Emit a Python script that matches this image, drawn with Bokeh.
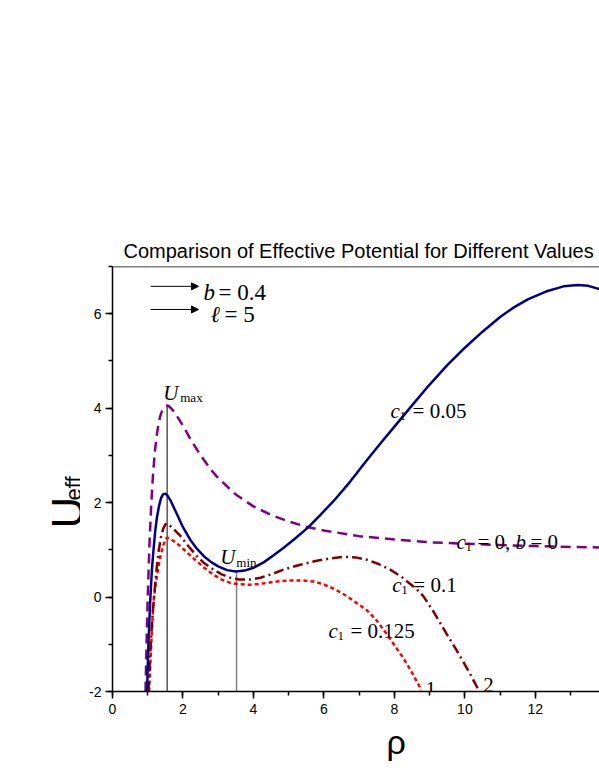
import math
from bokeh.plotting import figure
from bokeh.layouts import row
from bokeh.models import Label, Arrow, NormalHead, SingleIntervalTicker, Range1d, Span, Title
from bokeh.embed import file_html
from bokeh.resources import INLINE

# ---- data ----
purple_x = [0.937, 0.97, 1.0, 1.05, 1.1, 1.15, 1.2, 1.25, 1.3, 1.35, 1.4, 1.45, 1.5, 1.55, 1.6, 1.7, 1.8,
            2.0, 2.2, 2.5, 2.8, 3.0, 3.5, 4.0, 4.5, 5.0, 5.5, 6.0, 7.0, 8.0, 9.0, 10.0, 11.0, 12.0, 13.0, 13.82]
purple_y = [-2.0, -0.85, 0.0, 1.13, 1.97, 2.60, 3.06, 3.40, 3.64, 3.82, 3.93, 4.00, 4.04, 4.05, 4.04, 3.97, 3.87,
            3.63, 3.36, 3.00, 2.69, 2.52, 2.17, 1.92, 1.74, 1.60, 1.49, 1.41, 1.29, 1.22, 1.16, 1.13, 1.10, 1.08, 1.06, 1.05]

blue_x = [0.98, 1.02, 1.07, 1.12, 1.16, 1.21, 1.26, 1.32, 1.38, 1.44, 1.50, 1.56, 1.65, 1.75, 1.85, 2.0, 2.2,
          2.4, 2.6, 2.8, 3.0, 3.25, 3.5, 3.75, 4.0, 4.3, 4.6, 4.85, 5.2, 5.56, 5.9, 6.27, 6.74, 7.2, 7.59, 8.0,
          8.5, 9.0, 9.5, 10.0, 10.5, 11.0, 11.4, 11.8, 12.3, 12.8, 13.2, 13.5, 13.82]
blue_y = [-2.0, -1.0, -0.08, 0.60, 0.97, 1.38, 1.68, 1.93, 2.10, 2.18, 2.19, 2.15, 2.04, 1.88, 1.72, 1.48, 1.22,
          1.02, 0.86, 0.74, 0.65, 0.57, 0.54, 0.56, 0.62, 0.74, 0.90, 1.04, 1.25, 1.48, 1.74, 2.03, 2.44, 2.88, 3.24, 3.61,
          4.06, 4.50, 4.91, 5.28, 5.62, 5.93, 6.14, 6.31, 6.47, 6.58, 6.61, 6.59, 6.52]

dred_x = [1.02, 1.08, 1.14, 1.21, 1.26, 1.31, 1.37, 1.44, 1.50, 1.55, 1.62, 1.72, 1.92, 2.15, 2.39, 2.6, 2.87,
          3.1, 3.34, 3.6, 3.9, 4.2, 4.5, 4.85, 5.3, 5.8, 6.2, 6.55, 6.9, 7.22, 7.55, 7.88, 8.2, 8.64, 8.82, 9.1,
          9.49, 9.75, 9.96, 10.15, 10.34, 10.38]
dred_y = [-2.0, -1.05, -0.35, 0.27, 0.65, 0.97, 1.25, 1.45, 1.54, 1.56, 1.52, 1.45, 1.30, 1.08, 0.87, 0.72, 0.58,
          0.48, 0.41, 0.37, 0.37, 0.41, 0.48, 0.58, 0.68, 0.77, 0.82, 0.85, 0.84, 0.79, 0.70, 0.58, 0.43, 0.16, 0.02, -0.30,
          -0.79, -1.11, -1.38, -1.63, -1.90, -1.96]

red_x = [1.04, 1.1, 1.16, 1.25, 1.35, 1.45, 1.54, 1.62, 1.75, 1.92, 2.15, 2.39, 2.6, 2.87, 3.1, 3.34, 3.6, 3.9,
         4.3, 4.66, 5.0, 5.42, 5.7, 5.99, 6.3, 6.65, 6.9, 7.22, 7.5, 7.78, 8.0, 8.26, 8.5, 8.73, 8.76]
red_y = [-2.0, -1.0, -0.10, 0.40, 0.83, 1.12, 1.26, 1.24, 1.18, 1.08, 0.92, 0.76, 0.62, 0.47, 0.37, 0.30, 0.27, 0.26,
         0.29, 0.33, 0.35, 0.35, 0.33, 0.27, 0.17, 0.02, -0.11, -0.28, -0.50, -0.78, -1.02, -1.30, -1.60, -1.92, -1.98]

umax_x, umax_y = 1.55, 4.08
umin_x, umin_y = 3.52, 0.54

title_text = "Comparison of  Effective Potential for Different Values"
x_title = "\u03c1"
y_title_main, y_title_sub = "U", "eff"

LEFT_W = 80

# ---- left strip holding the rotated y title (its frame is aligned with the main frame: 266..691 px) ----
lf = figure(width=LEFT_W, height=776, x_range=Range1d(0, LEFT_W), y_range=Range1d(85, 510),
            output_backend="svg", toolbar_location=None, x_axis_type=None, y_axis_type=None,
            min_border_left=0, min_border_right=0, min_border_top=0, min_border_bottom=0)
lf.xgrid.visible = False
lf.ygrid.visible = False
lf.outline_line_color = None
lf.background_fill_color = "white"
lf.border_fill_color = "white"
lf.add_layout(Label(x=67, y=248, text=y_title_main, text_font="Liberation Sans", text_font_size="44px",
                    angle=math.pi / 2, text_align="left", text_baseline="alphabetic", text_color="black"))
lf.add_layout(Label(x=73, y=276, text=y_title_sub, text_font="Liberation Sans", text_font_size="22px",
                    angle=math.pi / 2, text_align="left", text_baseline="alphabetic", text_color="black"))

# ---- main figure ----
p = figure(width=599 - LEFT_W, height=776, x_range=Range1d(0, 13.82), y_range=Range1d(-2, 7),
           output_backend="svg", toolbar_location=None,
           min_border_left=112 - LEFT_W, min_border_right=0, min_border_top=266, min_border_bottom=85)
p.xgrid.visible = False
p.ygrid.visible = False
p.outline_line_color = None
p.background_fill_color = "white"
p.border_fill_color = "white"

for ax in (p.xaxis[0], p.yaxis[0]):
    ax.ticker = SingleIntervalTicker(interval=2, num_minor_ticks=2)
    ax.axis_line_width = 1.5
    ax.axis_line_color = "black"
    ax.major_tick_line_width = 1.5
    ax.minor_tick_line_width = 1.5
    ax.major_tick_in = 0
    ax.major_tick_out = 7
    ax.minor_tick_in = 0
    ax.minor_tick_out = 4
    ax.major_tick_line_color = "black"
    ax.minor_tick_line_color = "black"
    ax.major_label_text_font = "Liberation Sans"
    ax.major_label_text_font_size = "14px"
    ax.major_label_text_color = "black"
p.xaxis.major_label_standoff = 5
p.yaxis.major_label_standoff = 4
p.yaxis.major_label_overrides = {-2: "-2"}

p.add_layout(Span(location=7, dimension="width", line_color="black", line_width=1.5))

p.title.text = title_text
p.title.align = "left"
p.title.text_font = "Liberation Sans"
p.title.text_font_size = "20px"
p.title.text_font_style = "normal"
p.title.text_color = "black"
p.title.standoff = 9
p.title.offset = 11

p.add_layout(Title(text=x_title, align="left", offset=274, standoff=8, text_font="Liberation Sans",
                   text_font_size="34px", text_font_style="normal", text_color="black"), "below")

# ---- curves ----
p.line([umax_x, umax_x], [-2, umax_y], line_color="black", line_width=1)
p.line([umin_x, umin_x], [-2, umin_y], line_color="#808080", line_width=1.5)

p.line(purple_x, purple_y, line_color="#800080", line_width=2.5, line_dash="10 6")
p.line(red_x, red_y, line_color="#FF0000", line_width=2.5, line_dash="4 3")
p.line(dred_x, dred_y, line_color="#800000", line_width=2.5, line_dash="10 4 2 4")
p.line(blue_x, blue_y, line_color="#000080", line_width=2.5)

# ---- annotations ----
SERIF = "Liberation Serif"


def mlabel(x, y, parts):
    for txt, dx, dy, size, style in parts:
        p.add_layout(Label(x=x, y=y, x_offset=dx, y_offset=dy, text=txt, text_font=SERIF,
                           text_font_size=f"{size}px", text_font_style=style,
                           text_baseline="alphabetic", text_align="left", text_color="black"))


for ay in (6.58, 6.09):
    p.add_layout(Arrow(end=NormalHead(size=7, fill_color="black", line_color="black", line_width=1),
                       x_start=1.08, y_start=ay, x_end=2.44, y_end=ay, line_color="black", line_width=1))

mlabel(2.58, 6.45, [("b", 0, 0, 23, "italic"), ("= 0.4", 15, 0, 23, "normal")])
mlabel(2.78, 5.98, [("\u2113", 0, 0, 23, "italic"), ("= 5", 14, 0, 23, "normal")])
mlabel(1.44, 4.33, [("U", 0, 0, 21, "italic"), ("max", 17, -5, 13, "normal")])
mlabel(3.06, 0.84, [("U", 0, 0, 21, "italic"), ("min", 16, -5, 13, "normal")])
mlabel(7.89, 3.93, [("c", 0, 0, 21, "italic"), ("1", 9, -5, 13, "normal"), ("= 0.05", 22, 0, 21, "normal")])
mlabel(9.76, 1.16, [("c", 0, 0, 21, "italic"), ("1", 9, -5, 13, "normal"), ("= 0,", 21, 0, 21, "normal"),
                    ("b", 59, 0, 21, "italic"), ("= 0", 74, 0, 21, "normal")])
mlabel(7.94, 0.25, [("c", 0, 0, 21, "italic"), ("1", 9, -5, 13, "normal"), ("= 0.1", 21, 0, 21, "normal")])
mlabel(6.13, -0.71, [("c", 0, 0, 21, "italic"), ("1", 9, -5, 13, "normal"), ("= 0.125", 22, 0, 21, "normal")])
mlabel(8.88, -1.94, [("1", 0, 0, 21, "normal")])
mlabel(10.52, -1.87, [("2", 0, 0, 21, "normal")])

layout = row(lf, p, spacing=0)
open("out.html", "w").write(file_html(layout, INLINE))
